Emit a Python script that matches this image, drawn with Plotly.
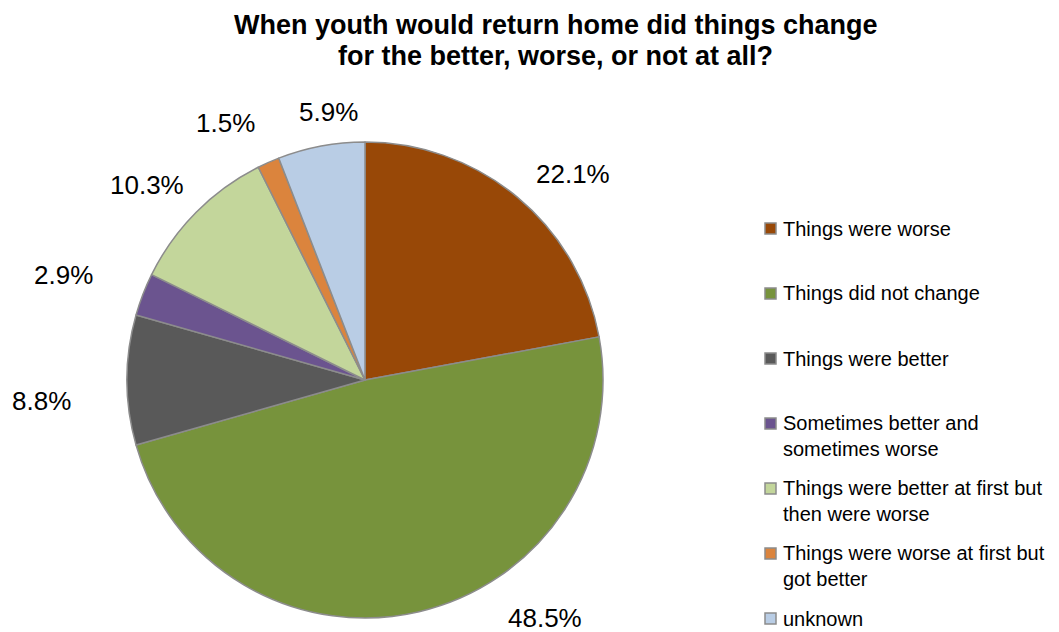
import math
import plotly.graph_objects as go

# Survey answers, clockwise from 12 o'clock
categories = [
    "Things were worse",
    "Things did not change",
    "Things were better",
    "Sometimes better and<br>sometimes worse",
    "Things were better at first but<br>then were worse",
    "Things were worse at first but<br>got better",
    "unknown",
]
shares = [22.1, 48.5, 8.8, 2.9, 10.3, 1.5, 5.9]
colors = ["#984807", "#77933C", "#595959", "#6B548F", "#C3D69B", "#DB843D", "#B9CDE5"]

title_lines = ["When youth would return home did things change",
               "for the better, worse, or not at all?"]

W, H = 1059, 632
FONT = "Liberation Sans, Arial, sans-serif"

# pie placement (pixels)
CX, CY, R = 365, 380, 238

# per-label placement around the pie: (angle shift in degrees, distance / radius)
label_nudge = [(5.6, 1.23), (-23.9, 1.255), (-3.7, 1.364), (-1.9, 1.343),
               (-3.0, 1.229), (-4.5, 1.228), (2.8, 1.137)]

# legend layout (pixels)
LEG_X_BOX, LEG_BOX, LEG_X_TEXT = 765, 11, 781
LEG_Y0, LEG_STEP, LEG_LINE = 228.5, 65, 25

# title layout (pixels): centre x, first-line centre y, line step
TITLE_X, TITLE_Y0, TITLE_STEP = 555, 25, 31


def px(x):
    return x / W


def py(y):
    return 1 - y / H


fig = go.Figure(
    go.Pie(
        labels=[c.replace("<br>", " ") for c in categories],
        values=shares,
        sort=False,
        direction="clockwise",
        rotation=0,
        marker=dict(colors=colors, line=dict(color="#8C8C8C", width=1.5)),
        textinfo="none",
        hoverinfo="label+percent",
        showlegend=False,
        domain=dict(x=[px(CX - R), px(CX + R)], y=[py(CY + R), py(CY - R)]),
    )
)

annotations = []
shapes = []

# chart title, one line per annotation
for i, line in enumerate(title_lines):
    annotations.append(dict(
        x=px(TITLE_X), y=py(TITLE_Y0 + i * TITLE_STEP),
        xref="paper", yref="paper",
        text=f"<b>{line}</b>", showarrow=False,
        xanchor="center", yanchor="middle",
        font=dict(family=FONT, size=27, color="#000000"),
    ))

# percentage labels, placed around each slice's mid-angle
total = sum(shares)
cum = 0.0
for v, (dang, kr) in zip(shares, label_nudge):
    mid = (cum + v / 2) / total * 360.0
    cum += v
    th = math.radians(mid + dang)
    lx = CX + kr * R * math.sin(th)
    ly = CY - kr * R * math.cos(th)
    annotations.append(dict(
        x=px(lx), y=py(ly), xref="paper", yref="paper",
        text=f"{v:.1f}%", showarrow=False,
        xanchor="center", yanchor="middle",
        font=dict(family=FONT, size=26, color="#000000"),
    ))

# legend: swatch + wrapped text per category
for i, (name, col) in enumerate(zip(categories, colors)):
    yc = LEG_Y0 + i * LEG_STEP
    nlines = name.count("<br>") + 1
    shapes.append(dict(
        type="rect", xref="paper", yref="paper",
        x0=px(LEG_X_BOX), x1=px(LEG_X_BOX + LEG_BOX),
        y0=py(yc + LEG_BOX / 2), y1=py(yc - LEG_BOX / 2),
        fillcolor=col, line=dict(color="#8C8C8C", width=1.5),
    ))
    annotations.append(dict(
        x=px(LEG_X_TEXT), y=py(yc + (nlines - 1) * LEG_LINE / 2),
        xref="paper", yref="paper",
        text=name, showarrow=False, align="left",
        xanchor="left", yanchor="middle",
        font=dict(family=FONT, size=20, color="#000000"),
    ))

fig.update_layout(
    width=W, height=H,
    margin=dict(l=0, r=0, t=0, b=0),
    paper_bgcolor="#FFFFFF",
    plot_bgcolor="#FFFFFF",
    annotations=annotations,
    shapes=shapes,
)

fig.write_html("out.html")
